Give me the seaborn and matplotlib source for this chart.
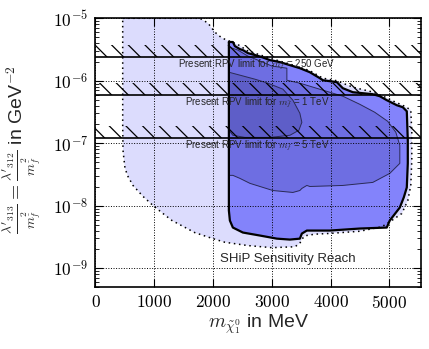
import numpy as np
import pandas as pd
import matplotlib
matplotlib.use("Agg")
import matplotlib.pyplot as plt
import seaborn as sns
from matplotlib.ticker import FuncFormatter, FixedLocator, LogLocator, NullFormatter, NullLocator

# ---------------- data ----------------
# outer (dotted) region
reach_x = [463, 1777, 1913, 2032, 2151, 2287, 2423, 2594, 2798, 3002, 3308, 3648, 3869,
           4107, 4379, 4719, 4923, 5094, 5264, 5366, 5383, 5383, 5366, 5315, 5213, 5043,
           4872, 4498, 3988, 3733, 3563, 3512, 3478, 3393, 3002, 2594, 2202, 1998, 1692,
           1301, 1148, 978, 808, 638, 553, 502, 468, 463]
reach_y = [1e-5, 1e-5, 8.4e-6, 6.0e-6, 4.83e-6, 4.3e-6, 3.8e-6, 3.0e-6, 2.6e-6, 2.25e-6,
           1.85e-6, 1.45e-6, 1.1e-6, 1.0e-6, 7.9e-7, 6.6e-7, 5.5e-7, 4.6e-7, 3.9e-7, 3.4e-7,
           1.5e-7, 5.3e-8, 2.1e-8, 1.21e-8, 7.5e-9, 5.8e-9, 4.6e-9, 3.9e-9, 3.6e-9, 3.5e-9,
           3.3e-9, 2.9e-9, 2.5e-9, 2.2e-9, 2.13e-9, 2.3e-9, 2.6e-9, 2.97e-9, 3.7e-9, 5.8e-9,
           7.5e-9, 1.01e-8, 1.41e-8, 2.11e-8, 2.94e-8, 3.96e-8, 7.7e-8, 2e-7]

# SHiP sensitivity region (thick black outline)
ship_x = [2270, 2338, 2372, 2457, 2508, 2594, 2713, 2832, 2968, 3138, 3308, 3478, 3648,
          3818, 3869, 4107, 4209, 4379, 4719, 4838, 4957, 5128, 5230, 5298, 5315, 5315,
          5298, 5247, 5179, 5008, 4957, 4498, 3988, 3597, 3512, 3478, 3308, 3087, 2798,
          2508, 2338, 2287, 2270]
ship_y = [4.17e-6, 4.17e-6, 3.59e-6, 3.21e-6, 3.10e-6, 2.77e-6, 2.58e-6, 2.39e-6, 2.14e-6,
          1.99e-6, 1.78e-6, 1.59e-6, 1.37e-6, 1.10e-6, 1.02e-6, 9.5e-7, 7.6e-7, 6.56e-7,
          6.09e-7, 5.66e-7, 4.89e-7, 4.06e-7, 3.77e-7, 3.25e-7, 1.11e-7, 4.76e-8, 1.96e-8,
          1.36e-8, 9.35e-9, 5.79e-9, 4.47e-9, 4.31e-9, 4.0e-9, 4.0e-9, 3.58e-9, 2.97e-9,
          2.87e-9, 2.97e-9, 3.33e-9, 3.72e-9, 4.47e-9, 5.79e-9, 8.37e-9]

# middle contour
mid_x = [2270, 2423, 2594, 2764, 3002, 3257, 3257, 3478, 4209, 4498, 4753, 4974, 5111,
         5179, 5179, 5008, 4719, 4209, 3648, 3597, 3512, 3478, 3359, 3019, 2628, 2457,
         2338, 2270]
mid_y = [3.46e-6, 3.10e-6, 2.48e-6, 2.14e-6, 1.72e-6, 1.59e-6, 1.02e-6, 9.15e-7, 5.66e-7,
         4.2e-7, 3.13e-7, 2.24e-7, 1.5e-7, 9.25e-8, 4.76e-8, 3.29e-8, 2.36e-8, 2.11e-8,
         2.03e-8, 2.11e-8, 1.89e-8, 1.75e-8, 1.63e-8, 1.75e-8, 2.28e-8, 2.74e-8, 3.06e-8,
         3.06e-8]

# inner contour
core_x = [2270, 2457, 2713, 2934, 3189, 3359, 3478, 3512, 3461, 3308, 2968, 2543, 2338, 2270]
core_y = [1.37e-6, 1.23e-6, 1.06e-6, 9.15e-7, 7.33e-7, 4.89e-7, 3.02e-7, 2.16e-7, 1.61e-7,
          1.34e-7, 1.24e-7, 1.24e-7, 1.34e-7, 1.61e-7]

rpv_limits = [2.4e-6, 6.0e-7, 1.23e-7]
rpv_masses = ["250 GeV", "1 TeV", "5 TeV"]

x_ticks = [0, 1000, 2000, 3000, 4000, 5000]
y_ticks = [1e-9, 1e-8, 1e-7, 1e-6, 1e-5]
x_range = [0, 5540]
y_range = [5e-10, 1e-5]

# ---------------- style ----------------
sns.set_style("ticks")
plt.rcParams["font.family"] = ["Liberation Sans", "DejaVu Sans"]
plt.rcParams["mathtext.fontset"] = "cm"
plt.rcParams["hatch.linewidth"] = 0.9

fig = plt.figure(figsize=(4.29, 3.49), dpi=100)
ax = fig.add_axes([0.2226, 0.1777, 0.7588, 0.7699])
ax.set_yscale("log")


def closed(xs, ys):
    return pd.DataFrame({"x": list(xs) + [xs[0]], "y": list(ys) + [ys[0]]})


reach = closed(reach_x, reach_y)
ship = closed(ship_x, ship_y)
mid = closed(mid_x, mid_y)
core = closed(core_x, core_y)

ax.fill(reach["x"], reach["y"], color="#dcdcfd", lw=0, zorder=1)
ax.fill(ship["x"], ship["y"], color="#8383fb", lw=0, zorder=1.1)
ax.fill(mid["x"], mid["y"], color="#6e6ee2", lw=0, zorder=1.2)
ax.fill(core["x"], core["y"], color="#5e5ec8", lw=0, zorder=1.3)

sns.lineplot(data=reach, x="x", y="y", sort=False, estimator=None, ax=ax,
             color="k", lw=1.1, linestyle=(0, (1, 2.4)), zorder=2)
sns.lineplot(data=mid, x="x", y="y", sort=False, estimator=None, ax=ax,
             color="#2a2a55", lw=0.7, zorder=2)
sns.lineplot(data=core, x="x", y="y", sort=False, estimator=None, ax=ax,
             color="#2a2a55", lw=0.7, zorder=2)
sns.lineplot(data=ship, x="x", y="y", sort=False, estimator=None, ax=ax,
             color="k", lw=1.6, zorder=2.1)

# present RPV limits: line + hatching above
for lim, mass in zip(rpv_limits, rpv_masses):
    ax.fill_between(x_range, lim, lim * 1.56, facecolor="none", edgecolor="k",
                    hatch="\\\\", lw=0, zorder=3)
    ax.axhline(lim, color="k", lw=1.2, zorder=3)
    ax.text(2750, lim * 0.97, r"Present RPV limit for $m_{\tilde{f}}$ = " + mass,
            ha="center", va="top", fontsize=7, zorder=4)

ax.text(3265, 1.42e-9, "SHiP Sensitivity Reach", ha="center", va="center", fontsize=9.5)

ax.set_xlim(*x_range)
ax.set_ylim(*y_range)

ax.xaxis.set_major_locator(FixedLocator(x_ticks))
ax.xaxis.set_minor_locator(NullLocator())
ax.xaxis.set_major_formatter(FuncFormatter(lambda v, p: r"$%d$" % v))
ax.yaxis.set_major_locator(FixedLocator(y_ticks))
ax.yaxis.set_minor_locator(LogLocator(base=10, subs=np.arange(2, 10)))
ax.yaxis.set_minor_formatter(NullFormatter())
ax.yaxis.set_major_formatter(FuncFormatter(lambda v, p: r"$10^{%d}$" % round(np.log10(v))))

ax.tick_params(which="both", direction="in", top=True, right=True, colors="k")
ax.tick_params(which="major", length=6, width=0.8, labelsize=12.5, pad=5)
ax.tick_params(which="minor", length=3, width=0.6)
for s in ax.spines.values():
    s.set_linewidth(1.2)
    s.set_color("k")

ax.grid(True, which="major", ls=":", color="k", lw=0.7)
ax.set_axisbelow(False)

ax.set_xlabel(r"$m_{\tilde{\chi}_1^0}$ in MeV", fontsize=14)
ax.xaxis.set_label_coords(0.5, -0.095)
ax.set_ylabel(r"$\frac{\lambda'_{313}}{m_{\tilde{f}}^2} = \frac{\lambda'_{312}}{m_{\tilde{f}}^2}$ in GeV$^{-2}$",
              fontsize=14)
ax.yaxis.set_label_coords(-0.16, 0.51)

fig.savefig("out.png", dpi=100)
